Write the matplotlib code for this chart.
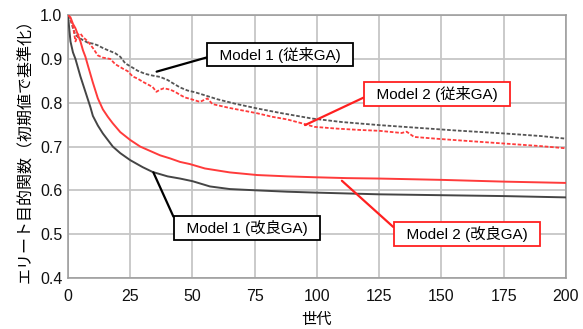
import matplotlib
matplotlib.use("Agg")
import matplotlib.pyplot as plt

plt.rcParams['font.family'] = ['Liberation Sans', 'Noto Sans CJK JP', 'DejaVu Sans']

# ---- data ----
gen_m1_imp = [0, 1, 2, 3, 5, 7, 9, 10, 12, 14, 16, 18, 21, 25, 30, 34, 40, 45, 50, 57, 65, 76, 88, 99, 112, 125, 150, 175, 200]
val_m1_imp = [1.0, 0.94, 0.915, 0.900, 0.860, 0.825, 0.790, 0.770, 0.748, 0.730, 0.715, 0.700, 0.685, 0.669, 0.653, 0.642, 0.632, 0.627, 0.621, 0.609, 0.603, 0.600, 0.597, 0.595, 0.593, 0.591, 0.589, 0.587, 0.584]

gen_m2_imp = [0, 1, 2, 3, 4, 5, 6, 7, 8, 10, 12, 14, 16, 18, 21, 25, 29, 33, 37, 41, 45, 49, 55, 65, 76, 88, 99, 112, 125, 150, 175, 200]
val_m2_imp = [1.0, 0.995, 0.980, 0.970, 0.955, 0.940, 0.920, 0.905, 0.885, 0.846, 0.810, 0.785, 0.768, 0.753, 0.733, 0.715, 0.700, 0.690, 0.680, 0.673, 0.665, 0.660, 0.650, 0.641, 0.635, 0.632, 0.630, 0.628, 0.627, 0.624, 0.620, 0.617]

gen_m1_conv = [0, 1, 2, 3, 4, 6, 8, 10, 12, 14, 16, 19, 21, 23, 26, 28, 31, 34, 37, 40, 42, 45, 48, 51, 55, 60, 67, 76, 85, 98, 110, 125, 140, 155, 175, 190, 200]
val_m1_conv = [1.0, 0.99, 0.970, 0.955, 0.950, 0.943, 0.937, 0.935, 0.931, 0.925, 0.920, 0.913, 0.905, 0.890, 0.880, 0.873, 0.866, 0.862, 0.859, 0.852, 0.845, 0.835, 0.828, 0.824, 0.817, 0.808, 0.798, 0.787, 0.777, 0.764, 0.756, 0.749, 0.743, 0.737, 0.730, 0.724, 0.718]

gen_m2_conv = [0, 1, 2, 3, 4, 5, 6, 7, 8, 10, 12, 14, 17, 19, 22, 24, 26, 28, 30, 32, 34, 35.5, 37, 38.5, 41, 43, 45, 47, 49, 53, 54.5, 56, 58, 65, 76, 82, 88, 94, 99, 108, 117, 125, 134, 136, 139, 150, 165, 175, 190, 200]
val_m2_conv = [1.0, 0.99, 0.975, 0.940, 0.955, 0.958, 0.950, 0.945, 0.940, 0.925, 0.908, 0.903, 0.900, 0.888, 0.878, 0.872, 0.860, 0.855, 0.848, 0.842, 0.836, 0.825, 0.830, 0.833, 0.830, 0.825, 0.818, 0.812, 0.809, 0.802, 0.806, 0.810, 0.797, 0.788, 0.776, 0.768, 0.762, 0.753, 0.745, 0.741, 0.738, 0.736, 0.731, 0.734, 0.722, 0.717, 0.711, 0.707, 0.701, 0.696]

x_ticks = [0, 25, 50, 75, 100, 125, 150, 175, 200]
y_ticks = [0.4, 0.5, 0.6, 0.7, 0.8, 0.9, 1.0]
x_label = "世代"
y_label = "エリート目的関数（初期値で基準化）"

# ---- figure ----
fig = plt.figure(figsize=(5.83, 3.29), dpi=100)
ax = fig.add_axes([0.1166, 0.155, 0.8542, 0.799])

gray_solid = '#454545'
gray_dash = '#555555'
red = '#ff3b3b'

ax.plot(gen_m1_conv, val_m1_conv, color=gray_dash, lw=1.3, ls=(0, (2, 1)), zorder=3)
ax.plot(gen_m2_conv, val_m2_conv, color=red, lw=1.3, ls=(0, (2, 1)), zorder=3)
ax.plot(gen_m1_imp, val_m1_imp, color=gray_solid, lw=1.4, zorder=3)
ax.plot(gen_m2_imp, val_m2_imp, color=red, lw=1.4, zorder=3)

ax.set_xlim(0, 200)
ax.set_ylim(0.4, 1.0)
ax.set_xticks(x_ticks)
ax.set_yticks(y_ticks)
ax.set_yticklabels([f"{v:.1f}" for v in y_ticks])
ax.grid(True, color='#c6c6c6', lw=1.3)
ax.set_axisbelow(True)
for s in ax.spines.values():
    s.set_color('#999999')
    s.set_linewidth(1.1)
ax.tick_params(axis='both', length=0, labelsize=11.5, colors='#111111')
ax.tick_params(axis='x', pad=8)
ax.tick_params(axis='y', pad=4)
ax.set_xlabel(x_label, fontsize=11, labelpad=6)
ax.set_ylabel(y_label, fontsize=11.5, labelpad=5)

def box(text, xy_text, xy_pt, ec, ha_side):
    ax.annotate("  " + text + "  ", xy=xy_pt, xytext=xy_text,
                textcoords='data', xycoords='data', fontsize=11,
                ha='center', va='center', zorder=5,
                bbox=dict(boxstyle='square,pad=0.25', fc='white', ec=ec, lw=1.3),
                arrowprops=dict(arrowstyle='-', color=ec, lw=1.6,
                                shrinkA=0, shrinkB=0, relpos=ha_side))

box("Model 1 (従来GA)", (85.3, 0.910), (35.6, 0.871), 'black', (0, 0.4))
box("Model 2 (従来GA)", (148.2, 0.820), (95.2, 0.749), '#ff2020', (0, 0.4))
box("Model 1 (改良GA)", (71.9, 0.514), (34.3, 0.641), 'black', (0, 0.6))
box("Model 2 (改良GA)", (160.2, 0.500), (110.0, 0.622), '#ff2020', (0, 0.7))

fig.savefig("out.png", dpi=100)
